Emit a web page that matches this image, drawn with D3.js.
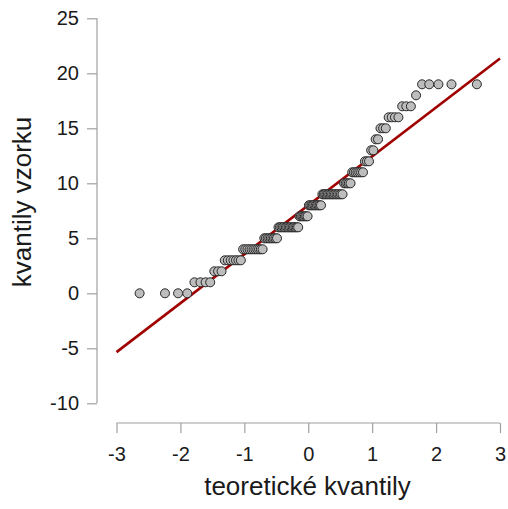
<!DOCTYPE html>
<html>
<head>
<meta charset="utf-8">
<script src="https://cdn.jsdelivr.net/npm/d3@7"></script>
<style>
  html, body { margin: 0; padding: 0; background: #fff; }
  svg { display: block; font-family: "Liberation Sans", Arial, sans-serif; }
</style>
</head>
<body>
<svg id="chart" width="508" height="509"></svg>
<script>
// ---- data ----
const sampleValues = [0, 1, 2, 3, 4, 5, 6, 7, 8, 9, 10, 11, 12, 13, 14, 15, 16, 17, 18, 19];
const sampleCounts = [4, 4, 3, 7, 11, 9, 15, 7, 10, 15, 5, 7, 3, 2, 2, 3, 4, 3, 1, 5];
const xTicks = [-3, -2, -1, 0, 1, 2, 3];
const yTicks = [-10, -5, 0, 5, 10, 15, 20, 25];
const refLine = { intercept: 8.0, slope: 4.45 };   // reference line
const xTitle = "teoretické kvantily";
const yTitle = "kvantily vzorku";

// ---- build sorted sample ----
const sample = [];
sampleValues.forEach((v, i) => { for (let k = 0; k < sampleCounts[i]; k++) sample.push(v); });
const n = sample.length;

// inverse standard normal CDF (Acklam)
function qnorm(p) {
  const a = [-3.969683028665376e+01, 2.209460984245205e+02, -2.759285104469687e+02, 1.383577518672690e+02, -3.066479806614716e+01, 2.506628277459239e+00];
  const b = [-5.447609879822406e+01, 1.615858368580409e+02, -1.556989798598866e+02, 6.680131188771972e+01, -1.328068155288572e+01];
  const c = [-7.784894002430293e-03, -3.223964580411365e-01, -2.400758277161838e+00, -2.549732539343734e+00, 4.374664141464968e+00, 2.938163982698783e+00];
  const d = [7.784695709041462e-03, 3.224671290700398e-01, 2.445134137142996e+00, 3.754408661907416e+00];
  const pl = 0.02425, ph = 1 - pl;
  let q, r;
  if (p < pl) {
    q = Math.sqrt(-2 * Math.log(p));
    return (((((c[0]*q+c[1])*q+c[2])*q+c[3])*q+c[4])*q+c[5]) / ((((d[0]*q+d[1])*q+d[2])*q+d[3])*q+1);
  } else if (p <= ph) {
    q = p - 0.5; r = q * q;
    return (((((a[0]*r+a[1])*r+a[2])*r+a[3])*r+a[4])*r+a[5])*q / (((((b[0]*r+b[1])*r+b[2])*r+b[3])*r+b[4])*r+1);
  } else {
    q = Math.sqrt(-2 * Math.log(1 - p));
    return -(((((c[0]*q+c[1])*q+c[2])*q+c[3])*q+c[4])*q+c[5]) / ((((d[0]*q+d[1])*q+d[2])*q+d[3])*q+1);
  }
}
const points = sample.map((v, i) => ({ t: qnorm((i + 1 - 0.5) / n), v }));

// ---- scales ----
const svg = d3.select("#chart");
const x = d3.scaleLinear().domain([-3, 3]).range([116.5, 500]);
const y = d3.scaleLinear().domain([-10, 25]).range([403.3, 18.3]);
const axisColor = "#a0a0a0";
const textColor = "#1a1a1a";

// ---- axes ----
const yAxisX = 97, xAxisY = 423;
const gy = svg.append("g").attr("transform", `translate(${yAxisX},0)`)
  .call(d3.axisLeft(y).tickValues(yTicks).tickSize(10).tickPadding(8).tickFormat(d3.format("d")));
const gx = svg.append("g").attr("transform", `translate(0,${xAxisY})`)
  .call(d3.axisBottom(x).tickValues(xTicks).tickSize(10).tickPadding(14).tickFormat(d3.format("d")));
[gx, gy].forEach(g => {
  g.select(".domain").attr("stroke", axisColor).attr("stroke-width", 1.2)
    .attr("d", g === gy ? `M0,${y(25)}V${y(-10)}` : `M${x(-3)},0H${x(3)}`);
  g.selectAll(".tick line").attr("stroke", axisColor).attr("stroke-width", 1.2);
  g.selectAll(".tick text").attr("fill", textColor).attr("font-size", 20)
    .attr("font-family", "'Liberation Sans', Arial, sans-serif");
});
gx.selectAll(".tick text").text(d => d < 0 ? "-" + Math.abs(d) : d);
gy.selectAll(".tick text").text(d => d < 0 ? "-" + Math.abs(d) : d);

// ---- titles ----
svg.append("text").attr("x", 307.5).attr("y", 495).attr("text-anchor", "middle")
  .attr("font-size", 26).attr("fill", textColor).text(xTitle);
svg.append("text").attr("transform", "translate(31,202) rotate(-90)").attr("text-anchor", "middle")
  .attr("font-size", 26).attr("fill", textColor).text(yTitle);

// ---- reference line ----
svg.append("line")
  .attr("x1", x(-3)).attr("y1", y(refLine.intercept + refLine.slope * -3))
  .attr("x2", x(3)).attr("y2", y(refLine.intercept + refLine.slope * 3))
  .attr("stroke", "#a00000").attr("stroke-width", 2.6);

// ---- points ----
svg.append("g").selectAll("circle").data(points).join("circle")
  .attr("cx", d => x(d.t)).attr("cy", d => y(d.v)).attr("r", 4.5)
  .attr("fill", "#bdbdbd").attr("stroke", "#262626").attr("stroke-width", 1);
</script>
</body>
</html>
